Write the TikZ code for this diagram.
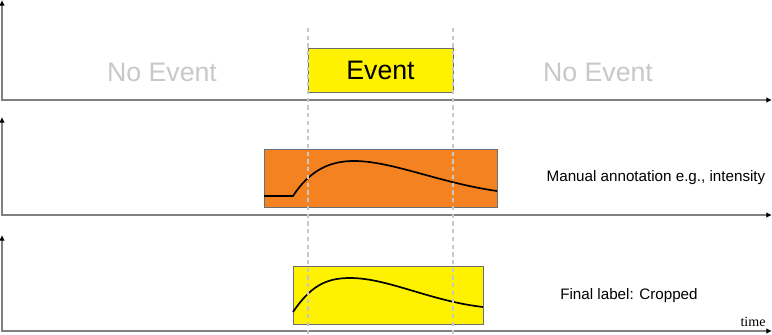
\documentclass[tikz,border=0pt]{standalone}
\usepackage{fontspec}
\setmainfont{Liberation Sans}
\newfontfamily\timefont{Liberation Serif}
\usetikzlibrary{arrows.meta}
\definecolor{event-yellow}{HTML}{FFF200}
\definecolor{annot-orange}{HTML}{F58220}
\definecolor{box-gray}{HTML}{6D6E71}
\definecolor{faint-gray}{HTML}{C7C8CA}
\definecolor{axis-gray}{HTML}{808080}

\begin{document}
\begin{tikzpicture}[x=0.025cm, y=0.025cm,
        every node/.style={inner sep=0pt},
        axis/.style={axis-gray, line width=1.1pt, {Latex[length=4pt,width=4pt,black]}-{Latex[length=4pt,width=4pt,black]}},
        bound/.style={faint-gray, line width=0.8pt, dash pattern=on 3pt off 2.5pt},
        labelbox/.style={draw=box-gray, line width=0.6pt, anchor=south west, outer sep=0pt},
        signal/.style={black, line width=1.2pt},
        bigtext/.style={font=\fontsize{19}{22}\selectfont},
        sidetext/.style={font=\fontsize{10.8}{13}\selectfont}]
      \useasboundingbox (0,0) rectangle (772,335);
      % axes of the three rows
      \draw[axis] (2,335) |- (772,235);
      \draw[axis] (2,218) |- (772,120);
      \draw[axis] (2,100) |- (772,4);
      % event limits
      \coordinate (onTop) at (308,307);
      \coordinate (onBot) at (308,0);
      \coordinate (offTop) at (453,307);
      \coordinate (offBot) at (453,0);
      % row 1
      \node[labelbox, fill=event-yellow, minimum width=3.625cm, minimum height=1.1cm] (EV) at (308,243) {};
      \node[bigtext] (EVL) at (EV.center) {Event};
      \node[bigtext, text=faint-gray] (NOL) at (162,263) {No Event};
      \node[bigtext, text=faint-gray] (NOR) at (598,263) {No Event};
      % row 2
      \node[labelbox, fill=annot-orange, minimum width=5.825cm, minimum height=1.45cm] (MAN) at (264,128) {};
      \draw[signal] (MAN.south west) ++(0,11) -- ++(29,0)
            .. controls (310,165) and (330,174) .. (354,174)
            .. controls (392,174) and (440,152) .. (MAN.east |- 0,144);
      \node[sidetext] (MANL) at (656,157) {Manual annotation e.g., intensity};
      % row 3
      \node[labelbox, fill=event-yellow, minimum width=4.75cm, minimum height=1.45cm] (CROP) at (293,11) {};
      \draw[signal] (CROP.south west) ++(0,12)
            .. controls (310,48) and (325,57) .. (350,57)
            .. controls (388,57) and (430,34) .. (CROP.east |- 0,28);
      \node[sidetext] (CROPL) at (629,39) {Final label: Cropped};
      \node[font=\timefont\fontsize{10}{12}\selectfont, anchor=base] (TIME) at (753,8) {time};
      % dashed limits on top
      \draw[bound] (onTop) -- (onBot);
      \draw[bound] (offTop) -- (offBot);
    \end{tikzpicture}
\end{document}
